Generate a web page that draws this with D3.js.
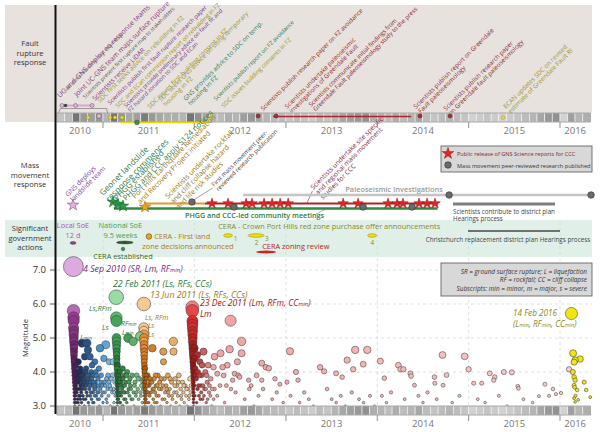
<!DOCTYPE html>
<html>
<head>
<meta charset="utf-8">
<script src="https://cdn.jsdelivr.net/npm/d3@7"></script>
<style>
body { margin: 0; background: #fff; }
svg { font-family: "Open Sans", sans-serif; }
</style>
</head>
<body>
<svg id="chart" width="600" height="432"></svg>
<script>
// ---- data ----
const yearTicks = [2010, 2011, 2012, 2013, 2014, 2015, 2016];
const magTicks = [3, 4, 5, 6, 7];
// monthly activity shading, Jul 2010 .. Apr 2016 (0 light, 1 dark)
const monthShade = [
  0.3, 0.35, 0.85, 0.6, 0.55, 0.6,
  0.4, 0.85, 0.6, 0.5, 0.55, 0.8, 0.6, 0.5, 0.45, 0.45, 0.4, 0.85,
  0.65, 0.5, 0.4, 0.35, 0.45, 0.4, 0.55, 0.6, 0.5, 0.4, 0.35, 0.35,
  0.3, 0.35, 0.3, 0.25, 0.35, 0.3, 0.4, 0.5, 0.55, 0.6, 0.65, 0.45,
  0.4, 0.35, 0.45, 0.35, 0.4, 0.5, 0.35, 0.3, 0.35, 0.4, 0.35, 0.3,
  0.2, 0.25, 0.3, 0.25, 0.2, 0.25, 0.3, 0.35, 0.4, 0.5, 0.6, 0.65,
  0.2, 0.55, 0.4, 0.45
];

// [decimal year, magnitude]
const quakesSep2010 = [
  [2010.676,7.1],[2010.677,5.8],[2010.678,5.6],[2010.679,5.5],[2010.678,5.3],[2010.68,5.2],[2010.679,5.1],
  [2010.681,5.0],[2010.68,4.9],[2010.682,4.8],[2010.681,4.7],[2010.683,4.6],[2010.682,4.5],[2010.684,4.4],
  [2010.683,4.3],[2010.685,4.2],[2010.684,4.1],[2010.686,4.0],[2010.685,3.9],[2010.687,3.8],[2010.686,3.7],
  [2010.688,3.6],[2010.687,3.5],[2010.689,3.4],[2010.688,3.3],[2010.69,3.2],[2010.689,3.1],[2010.691,3.0],
  [2010.70,4.2],[2010.70,3.6],[2010.705,3.1],[2010.71,4.0],[2010.712,3.4],[2010.715,3.8],[2010.72,3.5],
  [2010.722,3.2],[2010.725,3.9],[2010.73,4.3],[2010.732,3.7],[2010.735,3.3],[2010.74,3.0],[2010.742,3.8],
  [2010.745,3.5],[2010.75,4.1],[2010.752,3.2],[2010.755,3.6],[2010.76,3.9],[2010.762,3.4],[2010.765,3.1],
  [2010.77,4.85],[2010.772,3.7],[2010.775,4.0],[2010.78,3.3],[2010.785,3.6],[2010.79,3.9],[2010.795,3.0],
  [2010.80,4.45],[2010.802,3.5],[2010.805,3.8],[2010.81,3.2],[2010.815,4.1],[2010.82,3.4],[2010.824,4.85],
  [2010.83,3.7],[2010.835,4.65],[2010.84,3.1],[2010.845,3.9],[2010.85,3.5],[2010.857,4.45],[2010.86,3.3],
  [2010.865,3.7],[2010.87,4.0],[2010.875,3.2],[2010.88,4.2],[2010.885,3.6],[2010.89,3.4],[2010.895,3.9],
  [2010.90,3.1],[2010.905,3.5],[2010.91,4.3],[2010.915,3.7],[2010.92,4.0],[2010.925,3.3],[2010.93,3.6],
  [2010.94,3.2],[2010.945,3.8],[2010.95,3.4],[2010.955,4.1],[2010.96,3.0],[2010.967,4.7],[2010.97,3.5],
  [2010.98,3.9],[2010.985,3.3],[2010.99,3.6],[2011.0,3.1],[2011.01,4.4],[2011.015,3.7],[2011.02,3.4],
  [2011.03,4.8],[2011.035,3.2],[2011.04,3.8],[2011.05,3.5],[2011.055,3.9],[2011.06,3.3],[2011.07,4.3],
  [2011.075,3.6],[2011.08,3.0],[2011.09,3.8],[2011.10,3.4],[2011.11,4.3],[2011.115,3.5],[2011.12,3.1],
  [2011.13,3.7],[2011.135,3.3],
  [2010.695,3.8],[2010.698,3.3],[2010.703,4.0],[2010.708,3.5],[2010.718,3.7],[2010.728,3.1],[2010.738,4.0],
  [2010.748,3.3],[2010.758,3.8],[2010.768,3.5],[2010.778,3.9],[2010.788,3.2],[2010.798,3.7],[2010.808,4.0],
  [2010.818,3.6],[2010.828,3.3],[2010.838,3.8],[2010.848,3.0],[2010.858,3.6],[2010.868,3.4],[2010.878,3.8],
  [2010.888,3.1],[2010.898,3.7],[2010.908,3.3],[2010.918,3.5],[2010.928,3.9],[2010.938,3.4],[2010.948,3.6],
  [2010.958,3.2],[2010.978,3.7],[2010.995,3.4],[2011.025,3.6],[2011.045,3.1],[2011.065,3.7],[2011.085,3.5],
  [2011.105,3.9],[2011.125,3.4]
];
const quakesFeb2011 = [
  [2011.145,6.2],[2011.146,5.6],[2011.147,5.5],[2011.148,5.0],[2011.147,4.9],[2011.149,4.8],[2011.148,4.7],
  [2011.15,4.6],[2011.149,4.5],[2011.151,4.4],[2011.15,4.3],[2011.152,4.2],[2011.151,4.1],[2011.153,4.0],
  [2011.152,3.9],[2011.154,3.8],[2011.153,3.7],[2011.155,3.6],[2011.154,3.5],[2011.156,3.4],[2011.155,3.3],
  [2011.157,3.2],[2011.156,3.1],[2011.158,3.0],
  [2011.16,4.2],[2011.165,3.6],[2011.17,3.2],[2011.175,3.9],[2011.18,3.4],[2011.185,4.0],[2011.19,3.1],
  [2011.195,3.7],[2011.20,3.3],[2011.205,3.8],[2011.21,3.5],[2011.215,4.1],[2011.22,3.0],[2011.225,3.6],
  [2011.23,3.2],[2011.235,3.9],[2011.24,3.4],[2011.25,3.7],[2011.26,3.1],[2011.265,4.0],[2011.275,5.0],
  [2011.28,3.5],[2011.29,3.3],[2011.295,3.8],[2011.30,3.6],[2011.31,3.2],[2011.32,3.9],[2011.33,4.9],
  [2011.335,3.4],[2011.34,3.0],[2011.35,3.7],[2011.36,3.3],[2011.37,3.9],[2011.38,3.5],[2011.39,3.2],
  [2011.40,3.8],[2011.405,5.05],[2011.41,3.4],[2011.42,3.6],[2011.43,3.1],[2011.435,3.7],
  [2011.162,3.5],[2011.168,3.9],[2011.172,3.3],[2011.178,3.7],[2011.183,3.1],[2011.188,3.6],[2011.198,3.4],
  [2011.208,3.0],[2011.218,3.8],[2011.228,3.4],[2011.238,3.6],[2011.248,3.2],[2011.258,3.9],[2011.27,3.4],
  [2011.285,3.7],[2011.305,3.5],[2011.325,3.2],[2011.345,3.6],[2011.365,3.4],[2011.385,3.8],[2011.415,3.3],
  [2011.44,3.5]
];
const quakesJun2011 = [
  [2011.447,6.0],[2011.446,5.3],[2011.447,5.2],[2011.448,5.1],[2011.449,5.0],[2011.448,4.9],[2011.45,4.8],
  [2011.449,4.7],[2011.451,4.6],[2011.45,4.5],[2011.452,4.4],[2011.451,4.3],[2011.453,4.2],[2011.452,4.1],
  [2011.454,4.0],[2011.453,3.9],[2011.455,3.8],[2011.454,3.7],[2011.456,3.6],[2011.455,3.5],[2011.457,3.4],
  [2011.456,3.3],[2011.458,3.2],[2011.457,3.1],[2011.459,3.0],
  [2011.46,4.1],[2011.465,3.5],[2011.47,3.2],[2011.475,3.8],[2011.48,3.4],[2011.49,3.9],[2011.50,3.1],
  [2011.505,3.6],[2011.51,3.3],[2011.52,3.7],[2011.53,3.0],[2011.54,4.7],[2011.545,3.5],[2011.55,3.2],
  [2011.56,3.8],[2011.57,3.4],[2011.58,3.6],[2011.59,3.1],[2011.60,3.9],[2011.61,3.3],[2011.62,3.7],
  [2011.63,3.0],[2011.64,3.5],[2011.65,3.2],[2011.66,4.6],[2011.662,4.3],[2011.67,3.8],[2011.68,3.4],
  [2011.69,3.6],[2011.70,3.1],[2011.71,3.9],[2011.72,3.3],[2011.73,3.5],[2011.74,3.0],[2011.75,3.7],
  [2011.76,3.2],[2011.77,4.9],[2011.772,4.6],[2011.78,3.4],[2011.79,3.8],[2011.80,3.1],[2011.81,3.6],
  [2011.82,3.3],[2011.83,3.9],[2011.84,3.0],[2011.85,3.5],[2011.86,3.2],[2011.87,3.7],[2011.88,3.4],
  [2011.89,3.1],[2011.90,3.6],[2011.91,3.3],[2011.92,3.0],[2011.93,3.5],[2011.94,3.2],[2011.95,3.8],
  [2011.96,3.4],
  [2011.462,3.7],[2011.468,3.3],[2011.473,3.9],[2011.478,3.1],[2011.485,3.6],[2011.495,3.4],[2011.515,3.8],
  [2011.525,3.4],[2011.535,3.7],[2011.555,3.5],[2011.565,3.1],[2011.575,3.9],[2011.585,3.3],[2011.595,3.6],
  [2011.615,3.5],[2011.635,3.8],[2011.655,3.6],[2011.675,3.2],[2011.695,3.5],[2011.715,3.4],[2011.735,3.8],
  [2011.755,3.3],[2011.785,3.6],[2011.805,3.4],[2011.825,3.7],[2011.855,3.3],[2011.885,3.6],[2011.915,3.5],
  [2011.945,3.3],[2011.965,3.6]
];
const quakesDec2011 = [
  [2011.977,5.9],[2011.978,5.8],[2011.979,5.5],[2011.98,5.4],[2011.979,5.3],[2011.981,5.2],[2011.98,5.1],
  [2011.982,5.0],[2011.981,4.9],[2011.983,4.8],[2011.982,4.7],[2011.984,4.6],[2011.983,4.5],[2011.985,4.4],
  [2011.984,4.3],[2011.986,4.2],[2011.985,4.1],[2011.987,4.0],[2011.986,3.9],[2011.988,3.8],[2011.987,3.7],
  [2011.989,3.6],[2011.988,3.5],[2011.99,3.4],[2011.989,3.3],[2011.991,3.2],[2011.99,3.1],[2011.992,3.0],
  [2012.0,4.7],[2012.005,4.4],[2012.01,4.1],[2012.02,3.8],[2012.03,4.5],[2012.035,3.5],[2012.04,4.0],
  [2012.05,3.3],[2012.06,4.3],[2012.07,3.6],[2012.08,3.9],[2012.09,3.2],[2012.10,4.6],[2012.11,3.5],
  [2012.12,4.0],[2012.13,3.1],[2012.14,3.7],[2012.15,4.2],[2012.16,3.4],[2012.18,3.8],[2012.19,3.0],
  [2012.209,4.14],[2012.22,3.5],[2012.22,4.45],[2012.25,3.95],[2012.28,3.6],[2012.32,3.9],[2012.36,4.2],
  [2012.40,3.5],[2012.44,3.95],[2012.47,4.3],
  [2011.995,3.6],[2012.003,3.3],[2012.012,3.9],[2012.025,3.1],[2012.045,3.6],[2012.055,3.9],[2012.065,3.2],
  [2012.075,3.4],[2012.085,4.2],[2012.095,3.6],[2012.105,3.3],[2012.125,3.5],[2012.135,3.9],[2012.145,3.2],
  [2012.165,3.6],[2012.175,3.3],[2012.195,3.5],[2012.21,3.2],
  [2012.286,4.55],[2012.308,4.14],[2012.396,5.51],[2012.385,4.67],[2012.418,3.76],[2012.495,3.85],
  [2012.516,4.9],[2012.516,4.55],[2012.593,3.76],[2012.736,4.26],[2012.736,3.76],[2012.78,4.14],
  [2012.813,4.11],[2012.934,3.64],[2013.011,3.70],[2013.044,4.61],[2013.11,4.0],[2013.132,3.76],
  [2013.374,4.14],[2013.418,4.02],[2013.549,3.96],[2013.615,3.85],[2013.67,4.35],[2013.736,4.08],
  [2013.758,4.65],[2013.846,4.23],[2013.89,4.65],[2014.033,4.32],[2014.077,3.82],[2014.231,4.2],
  [2014.253,4.08],[2014.286,4.08],[2014.363,3.96],[2014.37,3.88],[2014.407,3.61],[2014.626,3.85],
  [2014.63,3.67],[2014.714,4.5],[2014.72,3.61],[2014.758,3.91],[2014.956,4.46],[2015.0,4.08],
  [2015.055,3.67],[2015.143,3.67],[2015.231,3.96],[2015.275,3.76],[2015.286,3.85],[2015.385,4.0],
  [2015.473,3.99],[2015.538,3.58],[2015.545,3.52],[2015.769,3.29],[2015.835,3.64],[2015.923,3.50],
  [2015.956,3.35],[2016.011,3.38],[2016.099,4.08],
  [2012.35,3.6],[2012.48,3.9],[2012.62,3.6],[2012.68,3.9],[2012.75,3.5],[2012.88,3.8],
  [2012.25,3.3],[2012.33,3.1],[2012.45,3.4],[2012.55,3.2],[2012.6,3.5],[2012.65,3.0],[2012.7,3.3],
  [2012.85,3.2],[2012.9,3.4],[2012.97,3.1],[2013.05,3.3],[2013.15,3.1],[2013.2,3.4],[2013.25,3.2],
  [2013.3,3.0],[2013.45,3.5],[2013.5,3.2],[2013.55,3.1],[2013.6,3.3],[2013.65,3.0],[2013.72,3.4],
  [2013.8,3.2],[2013.85,3.1],[2013.92,3.3],[2013.97,3.0],[2014.05,3.3],[2014.1,3.1],[2014.15,3.4],
  [2014.3,3.2],[2014.45,3.3],[2014.5,3.1],[2014.55,3.4],[2014.65,3.2],[2014.82,3.1],[2014.9,3.3],
  [2015.1,3.2],[2015.18,3.1],[2015.33,3.3],[2015.42,3.0],[2015.6,3.2],[2015.7,3.1],[2015.88,3.3]
];
const quakesFeb2016 = [
  [2016.125,5.72],[2016.143,4.55],[2016.165,4.35],[2016.22,4.38],[2016.154,4.29],[2016.154,3.85],
  [2016.165,3.76],[2016.264,3.70],[2016.154,3.61],[2016.187,3.47],[2016.286,3.47],[2016.154,3.23],
  [2016.165,3.12],[2016.33,3.26],[2016.198,3.18],[2016.14,4.0],[2016.16,3.55],[2016.17,3.3]
];

// fault rupture timeline markers
const faultPinkDots = [2010.551, 2010.70, 2010.88];
const faultDarkDots = [2010.59];
const faultPinkStrip = [2010.956];
const faultYellowStrip = [2010.836, 2011.077, 2011.131, 2011.208, 2015.376];
const faultGreenDots = [2011.372];
const faultRedStrip = [2012.696, 2012.893, 2014.468, 2014.797];

// mass movement markers
const gnsReports = [2012.193, 2012.368, 2012.565, 2012.630, 2012.761, 2012.849, 2012.937, 2013.024,
  2013.626, 2013.790, 2014.118, 2014.217, 2014.282, 2014.457, 2014.545, 2014.632];
const peerReviewed = [[2011.974, 'o'], [2012.433, 'g'], [2013.845, 'g'], [2014.381, 'g'], [2014.786, 'p'], [2016.339, 'p']];
const greenStars = [2011.109, 2011.164, 2011.219];
const orangeStars = [2011.460];
const purpleStars = [2010.672];

// government actions
const cera1 = [2012.368, 2012.674, 2013.943];

// ---- scales ----
function dt(yr) {
  const y = Math.floor(yr);
  const a = new Date(y, 0, 1), b = new Date(y + 1, 0, 1);
  return new Date(+a + (yr - y) * (b - a));
}
const x = d3.scaleTime()
  .domain([new Date(2011, 0, 1), new Date(2016, 0, 1)])
  .range([103, 560]);
const X = yr => x(dt(yr));
const y = d3.scaleLinear().domain([3, 7]).range([406, 270]);
const r = d3.scalePow().exponent(2.2).domain([3, 7.1]).range([1.2, 10]);
const shade = d3.scaleLinear().domain([0, 1]).range(['#efefef', '#5e5e5e']);
const months = d3.timeMonths(new Date(2010, 6, 1), new Date(2016, 4, 1));
const xStart = x(months[0]), xEnd = x(new Date(2016, 4, 1));

const purple = '#7b3a80', grey = '#666', olive = '#9a9426', green = '#2d7a4c',
      dred = '#8e2626', brown = '#9a7a22';

const svg = d3.select('#chart');

// ---- backgrounds ----
svg.append('rect').attr('x', 5).attr('y', 5).attr('width', 587).attr('height', 108).attr('fill', '#e8e2df');
svg.append('rect').attr('x', 5).attr('y', 113).attr('width', 50).attr('height', 9).attr('fill', '#e8e2df');
svg.append('rect').attr('x', 5).attr('y', 220).attr('width', 587).attr('height', 37).attr('fill', '#e0f0e9');

// grid
let grid = svg.append('g').attr('stroke', '#d4d4d4').attr('stroke-width', 0.7).attr('stroke-dasharray', '3,3');
grid.selectAll('.vg').data(yearTicks.slice(1)).enter().append('line')
  .attr('x1', d => X(d)).attr('x2', d => X(d)).attr('y1', 222).attr('y2', 405);
grid.selectAll('.hg').data(magTicks.slice(1)).enter().append('line')
  .attr('x1', 57).attr('x2', 592).attr('y1', d => y(d)).attr('y2', d => y(d));

// ---- side labels ----
function sideLabel(lines, cy) {
  let t = svg.append('text').attr('x', 30).attr('y', cy).attr('text-anchor', 'middle')
    .attr('font-size', 7.6).attr('fill', '#333');
  lines.forEach((l, i) => t.append('tspan').attr('x', 30).attr('dy', i ? 9.6 : 0).text(l));
}
sideLabel(['Fault', 'rupture', 'response'], 46);
sideLabel(['Mass', 'movement', 'response'], 168);
sideLabel(['Significant', 'government', 'actions'], 231);

// ---- month strips + year axis ----
function strip(y0) {
  let g = svg.append('g');
  g.selectAll('rect').data(months).enter().append('rect')
    .attr('x', d => x(d)).attr('y', y0)
    .attr('width', d => x(d3.timeMonth.offset(d, 1)) - x(d)).attr('height', 9)
    .attr('fill', (d, i) => shade(monthShade[i]))
    .attr('stroke', '#f6f6f6').attr('stroke-width', 0.6);
  g.append('rect').attr('x', xStart).attr('y', y0).attr('width', xEnd - xStart).attr('height', 9)
    .attr('fill', 'none').attr('stroke', '#777').attr('stroke-width', 0.6);
  g.selectAll('line').data(yearTicks.slice(1)).enter().append('line')
    .attr('x1', d => X(d)).attr('x2', d => X(d)).attr('y1', y0 + 9).attr('y2', y0 + 15)
    .attr('stroke', '#777').attr('stroke-width', 0.8);
  g.selectAll('text').data(yearTicks).enter().append('text')
    .attr('x', d => (Math.max(xStart, X(d)) + Math.min(xEnd, X(d + 1))) / 2)
    .attr('y', y0 + 21).attr('text-anchor', 'middle').attr('font-size', 9.5).attr('fill', '#777')
    .text(d => d);
}

// ---- fault rupture panel ----
function slanted(g, yr, yy, lines, size, color) {
  let t = g.append('text').attr('transform', `translate(${X(yr)},${yy}) rotate(-45)`)
    .attr('font-size', size).attr('fill', color);
  lines.forEach((l, i) => t.append('tspan').attr('x', 0).attr('dy', i ? '1.05em' : 0).text(l));
}
const faultLabels = [
  [2010.530, 98, 7.0, purple, ['UC and GNS deploy eq response teams']],
  [2010.590, 92, 4.6, grey, ['GNS press release on fault recurrence']],
  [2010.716, 97, 6.9, purple, ['Joint UC-GNS team maps surface rupture']],
  [2010.803, 99, 5.3, '#555', ['Scientists present first rupture map to stakeholders']],
  [2010.912, 101, 6.5, purple, ['Scientists receive LiDAR']],
  [2010.967, 103, 6.3, olive, ['SDC first seeks advice on rebuilding in FZ']],
  [2011.077, 105, 5.8, purple, ['Scientists publish first fault rupture research paper']],
  [2011.164, 108, 5.9, olive, ['SDC and ECan commission report on rebuilding in FZ']],
  [2011.252, 108, 5.7, purple, ['Scientists provide preliminary advice on fault fit and', 'FZ hazard zonation to SDC and ECan']],
  [2011.514, 109, 6.3, olive, ['SDC issues first building consent in FZ']],
  [2011.635, 102, 6.3, olive, ['SDC seeks GNS advice on siting temporary', 'housing in FZ']],
  [2011.908, 101, 6.3, green, ['GNS provides advice to SDC on temp.', 'housing in FZ']],
  [2012.236, 101, 5.8, green, ['Scientists publish report on FZ avoidance']],
  [2012.324, 108, 6.0, olive, ['SDC issues building consents in FZ']],
  [2012.751, 111, 6.1, dred, ['Scientists publish research paper on FZ avoidance']],
  [2013.013, 109, 6.2, dred, ['Scientists undertake paleoseismic', 'investigations of Greendale Fault']],
  [2013.276, 107, 6.0, dred, ['Scientists communicate initial findings from', 'Greendale Fault paleoseismology study to the press']],
  [2014.424, 109, 6.2, dred, ['Scientists publish report on Greendale', 'Fault paleoseismology']],
  [2014.753, 111, 6.2, dred, ['Scientists publish research paper', 'on Greendale fault paleoseismology']],
  [2015.409, 109, 6.3, olive, ['ECAN updates SDC on revised', 'estimate of Greendale Fault RI']]
];
let fault = svg.append('g');
faultLabels.forEach(d => slanted(fault, d[0], d[1], d[4], d[2], d[3]));

strip(113);

let ftl = svg.append('g');
ftl.append('polyline')
  .attr('points', [[X(2010.51), 113], [X(2010.535), 108.5], [X(2011.04), 108.5], [X(2011.05), 113]].join(' '))
  .attr('fill', 'none').attr('stroke', '#888').attr('stroke-width', 0.8);
ftl.append('line').attr('x1', X(2010.53)).attr('x2', X(2010.90)).attr('y1', 105.5).attr('y2', 105.5)
  .attr('stroke', '#d9a6d6').attr('stroke-width', 2);
ftl.selectAll('.pd').data(faultPinkDots).enter().append('circle')
  .attr('cx', d => X(d)).attr('cy', 105.5).attr('r', 2).attr('fill', '#e6b3e0').attr('stroke', '#555').attr('stroke-width', 0.5);
ftl.selectAll('.dd').data(faultDarkDots).enter().append('circle')
  .attr('cx', d => X(d)).attr('cy', 105.5).attr('r', 1.8).attr('fill', '#444');
ftl.selectAll('.ps').data(faultPinkStrip).enter().append('circle')
  .attr('cx', d => X(d)).attr('cy', 116).attr('r', 2.3).attr('fill', '#e6b3e0').attr('stroke', '#555').attr('stroke-width', 0.5);
ftl.append('polyline')
  .attr('points', [[X(2011.19), 122.5], [X(2012.14), 122.5], [X(2012.20), 113]].join(' '))
  .attr('fill', 'none').attr('stroke', '#e8d800').attr('stroke-width', 1.6);
ftl.selectAll('.ys').data(faultYellowStrip).enter().append('circle')
  .attr('cx', d => X(d)).attr('cy', 117.5).attr('r', 1.8).attr('fill', '#f2e200').attr('stroke', '#777').attr('stroke-width', 0.4);
ftl.selectAll('.gd').data(faultGreenDots).enter().append('circle')
  .attr('cx', d => X(d)).attr('cy', 122.5).attr('r', 2.3).attr('fill', '#2e9a46').attr('stroke', '#333').attr('stroke-width', 0.5);
ftl.append('line').attr('x1', X(2012.86)).attr('x2', X(2014.37)).attr('y1', 116.5).attr('y2', 116.5)
  .attr('stroke', '#b0242a').attr('stroke-width', 1.6);
ftl.selectAll('.rs').data(faultRedStrip).enter().append('circle')
  .attr('cx', d => X(d)).attr('cy', 116).attr('r', 2).attr('fill', '#d42020').attr('stroke', '#333').attr('stroke-width', 0.6);

// ---- mass movement panel ----
let mass = svg.append('g');
const massLabels = [
  [2010.617, 197, 6.8, '#8a3a8a', ['GNS deploys', 'landslide team']],
  [2011.0, 196, 8.3, green, ['Geonet landslide', 'response commences']],
  [2011.153, 201, 8.0, green, ['PHGG established']],
  [2011.252, 201, 7.8, green, ['PHGG and CCC apply S124 notices']],
  [2011.350, 199, 7.2, brown, ['Port Hills Earthquake Remediation', 'and Recovery Project initiated']],
  [2011.711, 199, 7.1, brown, ['Scientists undertake rockfall', 'and cliff collapse hazard', 'and life risk studies']],
  [2012.214, 187, 6.0, '#444', ['First mass movement peer-', 'reviewed research publication']],
  [2013.298, 190, 6.6, dred, ['Scientists undertake site specific', 'and regional mass movement', 'studies for CCC']]
];
massLabels.forEach(d => slanted(mass, d[0], d[1], d[4], d[2], d[3]));
mass.append('line').attr('x1', X(2011.974)).attr('y1', 201).attr('x2', X(2012.20)).attr('y2', 188)
  .attr('stroke', '#666').attr('stroke-width', 0.6);
mass.append('line').attr('x1', X(2013.23)).attr('y1', 203).attr('x2', X(2013.29)).attr('y2', 191)
  .attr('stroke', dred).attr('stroke-width', 0.6);

function hline(g, a, b, yy, color, w) {
  g.append('line').attr('x1', X(a)).attr('x2', X(b)).attr('y1', yy).attr('y2', yy)
    .attr('stroke', color).attr('stroke-width', w);
}
hline(mass, 2012.532, 2016.339, 195, '#c4c4c4', 2.5);
hline(mass, 2011.12, 2014.66, 208.5, '#2e8b3e', 2.5);
hline(mass, 2011.46, 2012.116, 203.5, '#e49a2a', 2);
hline(mass, 2012.116, 2014.66, 203.5, '#b22222', 2);
hline(mass, 2014.829, 2015.945, 204, '#7d7d7d', 3.2);

const star = d3.symbol().type(d3.symbolStar);
mass.selectAll('.gs').data(greenStars).enter().append('path')
  .attr('d', star.size(42)).attr('transform', (d, i) => `translate(${X(d)},${202 + i * 2})`)
  .attr('fill', '#2c9a48').attr('stroke', '#1b5e2b').attr('stroke-width', 0.5);
mass.selectAll('.os').data(orangeStars).enter().append('path')
  .attr('d', star.size(42)).attr('transform', d => `translate(${X(d)},207)`)
  .attr('fill', '#f0a020').attr('stroke', '#a06000').attr('stroke-width', 0.5);
mass.selectAll('.ps').data(purpleStars).enter().append('path')
  .attr('d', star.size(42)).attr('transform', d => `translate(${X(d)},205)`)
  .attr('fill', '#e2b0de').attr('stroke', '#7b3a80').attr('stroke-width', 0.5);
mass.selectAll('.rs').data(gnsReports).enter().append('path')
  .attr('d', star.size(34)).attr('transform', d => `translate(${X(d)},203.5)`)
  .attr('fill', '#e42424').attr('stroke', '#8e1a1a').attr('stroke-width', 0.5);
mass.selectAll('.pr').data(peerReviewed).enter().append('circle')
  .attr('cx', d => X(d[0])).attr('cy', d => d[1] === 'p' ? 195 : d[1] === 'o' ? 202 : 207)
  .attr('r', 3.3).attr('fill', '#6a6a6a').attr('stroke', '#333').attr('stroke-width', 0.6);

mass.append('text').attr('x', 185).attr('y', 217.5).attr('font-size', 7.2).attr('font-weight', 600)
  .attr('fill', '#2e7a3e').text('PHGG and CCC-led community meetings');
mass.append('line').attr('x1', 316).attr('y1', 214).attr('x2', 326).attr('y2', 209)
  .attr('stroke', '#666').attr('stroke-width', 0.5);
mass.append('text').attr('x', X(2013.65)).attr('y', 192).attr('font-size', 7.4).attr('font-weight', 600)
  .attr('fill', '#9a9a9a').text('Paleoseismic investigations');
mass.append('text').attr('x', X(2014.83)).attr('y', 213.5).attr('font-size', 6.2).attr('fill', '#444')
  .text('Scientists contribute to district plan');
mass.append('text').attr('x', X(2014.83)).attr('y', 221).attr('font-size', 6.2).attr('fill', '#444')
  .text('Hearings process');

// legend for mass movement panel
let lg = svg.append('g');
lg.append('rect').attr('x', 441).attr('y', 146).attr('width', 151).attr('height', 26)
  .attr('fill', '#d8d8d8').attr('stroke', '#555').attr('stroke-width', 0.8);
lg.append('path').attr('d', star.size(42)).attr('transform', 'translate(448,153.5)')
  .attr('fill', '#e42424').attr('stroke', '#8e1a1a').attr('stroke-width', 0.5);
lg.append('circle').attr('cx', 448).attr('cy', 165).attr('r', 3.3)
  .attr('fill', '#6a6a6a').attr('stroke', '#333').attr('stroke-width', 0.6);
lg.append('text').attr('x', 457).attr('y', 156).attr('font-size', 5.6).attr('fill', '#8e1a1a')
  .text('Public release of GNS Science reports for CCC');
lg.append('text').attr('x', 457).attr('y', 167.5).attr('font-size', 5.6).attr('fill', '#333')
  .text('Mass movement peer-reviewed research published');

// ---- government actions ----
let gov = svg.append('g').attr('font-size', 7.4);
gov.append('text').attr('x', X(2010.672)).attr('y', 228).attr('text-anchor', 'middle').attr('fill', '#b050b0').text('Local SoE');
gov.append('text').attr('x', X(2010.672)).attr('y', 237.5).attr('text-anchor', 'middle').attr('fill', '#b050b0').text('12 d');
gov.append('ellipse').attr('cx', X(2010.672)).attr('cy', 243).attr('rx', 3).attr('ry', 1.4)
  .attr('fill', '#a03a9a').attr('stroke', '#333').attr('stroke-width', 0.4);
gov.append('text').attr('x', X(2011.19)).attr('y', 228).attr('text-anchor', 'middle').attr('fill', '#3aa64e').text('National SoE');
gov.append('text').attr('x', X(2011.19)).attr('y', 237.5).attr('text-anchor', 'middle').attr('fill', '#3aa64e').text('9.5 weeks');
gov.append('ellipse').attr('cx', (X(2011.148) + X(2011.33)) / 2).attr('cy', 242.5)
  .attr('rx', (X(2011.33) - X(2011.148)) / 2).attr('ry', 1.4).attr('fill', '#2a5a2a').attr('stroke', '#222').attr('stroke-width', 0.4);
gov.append('circle').attr('cx', X(2011.219)).attr('cy', 249).attr('r', 1.8).attr('fill', '#2e9a46').attr('stroke', '#222').attr('stroke-width', 0.4);
gov.append('text').attr('x', X(2011.219)).attr('y', 258.5).attr('text-anchor', 'middle').attr('fill', '#2a6a2e').text('CERA established');
gov.append('circle').attr('cx', X(2011.503)).attr('cy', 236.5).attr('r', 2.8).attr('fill', '#f0a020').attr('stroke', '#333').attr('stroke-width', 0.5);
gov.append('text').attr('x', X(2011.56)).attr('y', 239).attr('fill', '#b07a10').text('CERA - First land');
gov.append('text').attr('x', X(2011.43)).attr('y', 249).attr('fill', '#b07a10').text('zone decisions announced');
gov.append('text').attr('x', X(2012.26)).attr('y', 228.5).attr('fill', '#8a8a1e').text('CERA - Crown Port Hills red zone purchase offer announcements');
gov.selectAll('.ce').data(cera1).enter().append('ellipse')
  .attr('cx', d => X(d)).attr('cy', 235.5).attr('rx', (d, i) => i === 1 ? 8 : 4.5).attr('ry', 1.8)
  .attr('fill', '#f2e200').attr('stroke', '#8a7a10').attr('stroke-width', 0.5);
gov.append('text').attr('x', X(2012.43)).attr('y', 240.5).attr('font-size', 6.3).attr('fill', '#8a8a1e').text('1');
gov.append('text').attr('x', X(2012.68)).attr('y', 244.5).attr('font-size', 6.3).attr('text-anchor', 'middle').attr('fill', '#8a8a1e').text('2');
gov.append('text').attr('x', X(2012.77)).attr('y', 240.5).attr('font-size', 6.3).attr('fill', '#8a8a1e').text('3');
gov.append('text').attr('x', X(2013.945)).attr('y', 244.5).attr('font-size', 6.3).attr('text-anchor', 'middle').attr('fill', '#8a8a1e').text('4');
gov.append('ellipse').attr('cx', (X(2012.674) + X(2012.893)) / 2).attr('cy', 252).attr('rx', (X(2012.893) - X(2012.674)) / 2).attr('ry', 1.4)
  .attr('fill', '#d02424');
gov.append('text').attr('x', X(2012.74)).attr('y', 249).attr('fill', '#b22222').text('CERA zoning review');
hline(gov, 2014.993, 2016.0, 231, '#707070', 2.2);
gov.append('text').attr('x', X(2014.53)).attr('y', 241.5).attr('font-size', 6.3).attr('fill', '#444')
  .text('Christchurch replacement district plan Hearings process');

// ---- earthquake scatter ----
function seq(data, t0, stops, colors) {
  const c = d3.scaleLinear().domain(stops).range(colors).clamp(true);
  return data.map(d => ({ t: d[0], m: d[1], c: c((d[0] - t0) * 365) }));
}
const quakes = [].concat(
  seq(quakesSep2010, 2010.676, [0, 0.6, 3, 20, 100, 170], ['#dcaade', '#a03c98', '#561a5c', '#1d2a58', '#3d88c2', '#9ad0f2']),
  seq(quakesFeb2011, 2011.145, [0, 0.5, 3, 30, 110], ['#98dca4', '#46ac5e', '#1d6a2c', '#2f8e42', '#8fd49a']),
  seq(quakesJun2011, 2011.447, [0, 0.5, 3, 40, 190], ['#f8c890', '#f09030', '#b85400', '#d8882c', '#f8d0a0']),
  seq(quakesDec2011, 2011.977, [0, 0.5, 3, 80, 1500], ['#f48080', '#e43030', '#9a1010', '#f2a4a4', '#f8cccc']),
  seq(quakesFeb2016, 2016.12, [0, 100], ['#f2e40c', '#f2e40c'])
).sort((a, b) => b.m - a.m);

svg.append('g').selectAll('circle').data(quakes).enter().append('circle')
  .attr('cx', d => X(d.t)).attr('cy', d => y(d.m)).attr('r', d => r(d.m))
  .attr('fill', d => d.c).attr('stroke', '#333').attr('stroke-width', 0.5);

strip(406);

// magnitude axis
let ax = svg.append('g');
ax.selectAll('line').data(magTicks).enter().append('line')
  .attr('x1', 50).attr('x2', 55).attr('y1', d => y(d)).attr('y2', d => y(d))
  .attr('stroke', '#333').attr('stroke-width', 0.8);
ax.selectAll('text').data(magTicks).enter().append('text')
  .attr('x', 46).attr('y', d => y(d) + 3.3).attr('text-anchor', 'end')
  .attr('font-size', 9.5).attr('fill', '#333').text(d => d.toFixed(1));
svg.append('text').attr('transform', 'translate(28,338) rotate(-90)').attr('text-anchor', 'middle')
  .attr('font-size', 7.6).attr('fill', '#333').text('Magnitude');

// main vertical rule
svg.append('line').attr('x1', 55.5).attr('x2', 55.5).attr('y1', 5).attr('y2', 414)
  .attr('stroke', '#111').attr('stroke-width', 2);

// ---- annotations ----
function rich(g, xx, yy, str, size, color, italic) {
  let t = g.append('text').attr('x', xx).attr('y', yy).attr('font-size', size).attr('fill', color)
    .attr('font-style', italic ? 'italic' : null);
  str.split(/(\{[^}]*\})/).forEach(p => {
    if (!p) return;
    if (p[0] === '{') t.append('tspan').attr('font-size', size * 0.68).text(p.slice(1, -1));
    else t.append('tspan').text(p);
  });
}
let ann = svg.append('g');
rich(ann, 83, 272, '4 Sep 2010 (SR, Lm, RF{min})', 8.8, '#7b2a80', true);
rich(ann, 113, 287, '22 Feb 2011 (Ls, RFs, CCs)', 8.8, '#2e7a3e', true);
rich(ann, 150, 298, '13 Jun 2011 (Ls, RFs, CCs)', 8.8, '#a07818', true);
rich(ann, 200, 306, '23 Dec 2011 (Lm, RFm, CC{min})', 8.6, '#a01818', true);
rich(ann, 200, 316.5, 'Lm', 8.6, '#a01818', true);
rich(ann, 89, 311, 'Ls,RFm', 7.4, '#2e7a3e', true);
rich(ann, 102, 330, 'Ls', 7.4, '#2e7a3e', true);
rich(ann, 80, 340, 'L{min}', 7.4, '#4d6a88', true);
rich(ann, 121, 326, 'RF{min}', 7.0, '#2e7a3e', true);
rich(ann, 122, 335, 'L{min}', 7.0, '#2e7a3e', true);
rich(ann, 145, 319.5, 'Ls, RFm', 7.0, '#a07818', true);
rich(ann, 148, 328, 'Ls', 7.0, '#a07818', true);
rich(ann, 148, 336.5, 'Ls', 7.0, '#a07818', true);
rich(ann, 513, 316, '14 Feb 2016', 8.2, '#8a8a1e', true);
rich(ann, 513, 326.5, '(L{min}, RF{min}, CC{min})', 8.2, '#8a8a1e', true);

// abbreviations box
let key = svg.append('g');
key.append('rect').attr('x', 441).attr('y', 263).attr('width', 151).attr('height', 33)
  .attr('fill', '#d8d8d8').attr('stroke', '#555').attr('stroke-width', 0.8);
['SR = ground surface rupture;  L = liquefaction', 'RF = rockfall; CC = cliff collapse',
 'Subscripts: min = minor, m = major, s = severe'].forEach((l, i) =>
  key.append('text').attr('x', 587).attr('y', 273.5 + i * 8.5).attr('text-anchor', 'end')
    .attr('font-size', 6.4).attr('font-style', 'italic').attr('fill', '#333').text(l));
</script>
</body>
</html>
